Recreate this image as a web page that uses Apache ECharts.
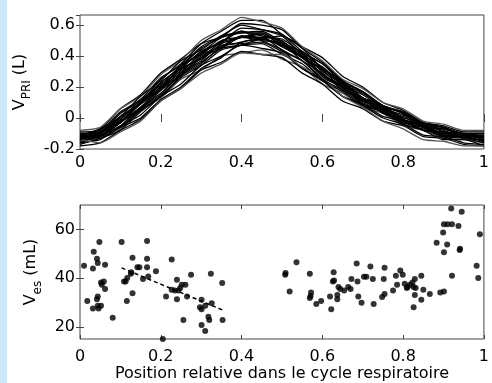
<!DOCTYPE html>
<html><head><meta charset="utf-8">
<script src="https://cdn.jsdelivr.net/npm/echarts@6/dist/echarts.min.js"></script>
<style>html,body{margin:0;padding:0;background:#fff}#c{width:492px;height:383px}</style>
</head><body><div id="c"></div>
<script>
// ---- data ----
const cyclePositions = [0,0.05,0.1,0.15,0.2,0.25,0.3,0.35,0.4,0.45,0.5,0.55,0.6,0.65,0.7,0.75,0.8,0.85,0.9,0.95,1];
const volumeCurves = [
  [-0.12,-0.10,0.01,0.10,0.25,0.35,0.48,0.56,0.63,0.63,0.54,0.45,0.32,0.23,0.13,0.08,0.00,-0.03,-0.09,-0.10,-0.12],
  [-0.15,-0.12,-0.07,0.05,0.13,0.25,0.31,0.40,0.42,0.44,0.38,0.33,0.22,0.16,0.07,0.03,-0.05,-0.08,-0.13,-0.14,-0.16],
  [-0.10,-0.09,0.03,0.11,0.23,0.32,0.43,0.49,0.56,0.53,0.50,0.39,0.31,0.19,0.13,0.05,0.01,-0.06,-0.07,-0.11,-0.11],
  [-0.17,-0.13,-0.08,0.04,0.14,0.27,0.35,0.46,0.49,0.52,0.46,0.40,0.28,0.20,0.10,0.05,-0.04,-0.08,-0.14,-0.14,-0.18],
  [-0.11,-0.07,0.06,0.15,0.29,0.38,0.48,0.52,0.56,0.50,0.44,0.32,0.24,0.14,0.09,0.01,-0.02,-0.08,-0.09,-0.12,-0.12],
  [-0.14,-0.13,-0.06,0.00,0.12,0.20,0.32,0.39,0.49,0.51,0.53,0.46,0.39,0.27,0.20,0.10,0.05,-0.03,-0.06,-0.11,-0.13],
  [-0.09,-0.08,0.04,0.12,0.26,0.34,0.46,0.53,0.60,0.57,0.53,0.41,0.33,0.22,0.16,0.07,0.04,-0.03,-0.05,-0.09,-0.09],
  [-0.16,-0.11,-0.05,0.07,0.16,0.28,0.36,0.45,0.47,0.48,0.41,0.35,0.24,0.17,0.08,0.04,-0.04,-0.07,-0.12,-0.12,-0.15],
  [-0.13,-0.12,-0.02,0.07,0.20,0.29,0.42,0.49,0.58,0.57,0.54,0.43,0.35,0.23,0.17,0.08,0.03,-0.05,-0.08,-0.13,-0.14],
  [-0.12,-0.09,-0.02,0.10,0.20,0.32,0.38,0.47,0.48,0.49,0.43,0.37,0.26,0.20,0.11,0.06,-0.02,-0.05,-0.11,-0.11,-0.13],
  [-0.18,-0.16,-0.08,-0.01,0.11,0.19,0.31,0.36,0.43,0.41,0.39,0.29,0.22,0.11,0.06,-0.02,-0.05,-0.12,-0.13,-0.17,-0.18],
  [-0.08,-0.06,0.06,0.14,0.28,0.37,0.50,0.57,0.65,0.62,0.58,0.46,0.37,0.25,0.19,0.10,0.06,-0.02,-0.04,-0.08,-0.08],
  [-0.14,-0.10,-0.03,0.10,0.19,0.33,0.42,0.52,0.55,0.56,0.49,0.42,0.30,0.22,0.12,0.07,-0.01,-0.05,-0.11,-0.12,-0.15],
  [-0.11,-0.10,0.00,0.09,0.22,0.30,0.41,0.46,0.53,0.52,0.51,0.42,0.35,0.24,0.17,0.08,0.03,-0.04,-0.06,-0.11,-0.11],
  [-0.15,-0.11,-0.06,0.06,0.15,0.29,0.37,0.48,0.52,0.55,0.48,0.41,0.28,0.20,0.09,0.04,-0.03,-0.06,-0.12,-0.13,-0.16],
  [-0.12,-0.07,0.01,0.14,0.24,0.37,0.44,0.53,0.55,0.55,0.46,0.39,0.27,0.20,0.11,0.07,-0.01,-0.04,-0.10,-0.10,-0.12],
  [-0.13,-0.11,-0.06,0.05,0.14,0.26,0.34,0.44,0.47,0.51,0.47,0.43,0.32,0.24,0.13,0.08,-0.01,-0.05,-0.11,-0.11,-0.14],
  [-0.10,-0.09,0.01,0.09,0.23,0.33,0.45,0.52,0.61,0.60,0.57,0.45,0.36,0.24,0.17,0.08,0.04,-0.04,-0.06,-0.10,-0.10],
  [-0.16,-0.14,-0.05,0.02,0.14,0.22,0.34,0.40,0.47,0.45,0.42,0.32,0.25,0.14,0.08,0.00,-0.04,-0.11,-0.12,-0.16,-0.17],
  [-0.13,-0.09,-0.03,0.09,0.18,0.31,0.39,0.49,0.52,0.54,0.47,0.40,0.28,0.21,0.11,0.06,-0.02,-0.05,-0.10,-0.11,-0.13],
  [-0.14,-0.16,-0.09,-0.02,0.11,0.19,0.29,0.35,0.42,0.41,0.41,0.33,0.26,0.14,0.07,-0.02,-0.07,-0.14,-0.15,-0.18,-0.18],
  [-0.12,-0.12,-0.03,0.06,0.19,0.28,0.40,0.46,0.53,0.51,0.48,0.37,0.29,0.18,0.12,0.03,-0.01,-0.08,-0.09,-0.13,-0.14],
  [-0.14,-0.09,-0.01,0.12,0.21,0.34,0.41,0.50,0.52,0.52,0.44,0.37,0.25,0.18,0.09,0.05,-0.03,-0.06,-0.12,-0.12,-0.15],
  [-0.11,-0.11,-0.02,0.05,0.18,0.27,0.39,0.45,0.52,0.50,0.48,0.39,0.32,0.21,0.15,0.06,0.02,-0.05,-0.07,-0.11,-0.12]
];
const earlyPoints = [
  [0.010,45.1],[0.018,30.6],[0.032,27.5],[0.034,50.8],[0.032,43.9],[0.042,47.9],[0.044,46.2],[0.048,54.8],
  [0.052,38.2],[0.059,38.6],[0.062,45.5],[0.062,35.5],[0.054,37.3],[0.044,32.4],[0.042,31.3],[0.044,28.6],
  [0.046,27.5],[0.052,28.6],[0.081,23.7],[0.103,54.8],[0.109,38.6],[0.113,38.6],[0.117,40.0],[0.116,30.6],
  [0.130,48.3],[0.127,42.4],[0.130,33.8],[0.126,41.8],[0.142,44.4],[0.147,44.4],[0.156,39.6],[0.166,55.2],
  [0.166,47.9],[0.166,44.4],[0.169,40.7],[0.188,42.8],[0.205,15.0],[0.227,47.6],[0.213,32.4],[0.240,39.3],
  [0.240,31.3],[0.227,35.2],[0.235,34.9],[0.244,34.9],[0.248,35.9],[0.252,37.3],[0.256,22.8],[0.261,37.3],
  [0.275,41.4],[0.265,32.4],[0.324,41.8],[0.352,38.0],[0.301,31.1],[0.297,28.0],[0.301,27.2],[0.310,28.6],
  [0.318,24.1],[0.320,22.8],[0.326,29.7],[0.301,20.7],[0.310,18.3],[0.353,22.8]
];
const latePoints = [
  [0.508,41.4],[0.509,42.1],[0.519,34.5],[0.536,46.5],[0.569,41.8],[0.572,34.1],[0.571,32.7],[0.569,31.8],
  [0.585,29.4],[0.597,30.6],[0.619,32.4],[0.622,27.2],[0.626,38.6],[0.629,39.0],[0.628,42.4],[0.637,33.1],
  [0.637,31.3],[0.640,36.3],[0.644,35.5],[0.654,34.9],[0.664,36.3],[0.670,35.5],[0.672,39.6],[0.685,46.0],
  [0.687,38.6],[0.689,32.4],[0.697,29.9],[0.703,40.5],[0.709,40.5],[0.719,44.8],[0.725,39.6],[0.727,29.4],
  [0.748,32.2],[0.752,39.6],[0.754,44.2],[0.754,33.5],[0.775,34.9],[0.782,41.0],[0.785,37.3],[0.793,43.1],
  [0.799,41.4],[0.804,37.7],[0.809,35.9],[0.811,36.3],[0.817,37.3],[0.823,38.2],[0.829,39.6],[0.826,36.3],
  [0.831,35.9],[0.829,33.1],[0.826,28.0],[0.845,41.0],[0.850,35.2],[0.845,31.1],[0.866,33.5],[0.892,34.1],
  [0.901,34.5],[0.883,54.5],[0.899,58.7],[0.901,62.1],[0.910,62.1],[0.921,62.1],[0.919,68.6],[0.945,67.2],
  [0.937,61.4],[0.909,53.8],[0.901,50.6],[0.940,51.5],[0.941,52.0],[0.921,41.0],[0.990,58.0],[0.982,45.1],
  [0.986,40.0]
];
const trendLine = [[0.103,44.2],[0.353,26.9]];
const bottomYTicks = [20, 40, 60];
const xAxisTitle = 'Position relative dans le cycle respiratoire';

// ---- chart ----
const FONT = 'DejaVu Sans, sans-serif';
const FS = 16;
const AX = '#444';
const chart = echarts.init(document.getElementById('c'), null, {renderer: 'canvas'});

function xAx(grid, pos, labels, margin) {
  return {
    type: 'value', gridIndex: grid, position: pos, min: 0, max: 1, interval: 0.2,
    axisLine: {show: false}, splitLine: {show: false},
    axisTick: {show: true, inside: true, length: 4, lineStyle: {color: AX}},
    axisLabel: {show: labels, margin: margin, color: '#000', fontSize: FS, fontFamily: FONT}
  };
}
function yAx(grid, pos, min, max, interval, labels, extra) {
  return Object.assign({
    type: 'value', gridIndex: grid, position: pos, min: min, max: max, interval: interval,
    axisLine: {show: false}, splitLine: {show: false},
    axisTick: {show: true, inside: true, length: 4, lineStyle: {color: AX}},
    axisLabel: {show: labels, margin: 5, color: '#000', fontSize: FS, fontFamily: FONT, showMaxLabel: false, showMinLabel: true}
  }, extra || {});
}
const richName = {
  v: {fontSize: 16, fontFamily: FONT, color: '#000', lineHeight: 16, verticalAlign: 'top'},
  s: {fontSize: 12, fontFamily: FONT, color: '#000', lineHeight: 12, verticalAlign: 'top', padding: [9, 0, 0, 0]}
};

const series = [];
volumeCurves.forEach((c, i) => {
  series.push({
    type: 'line', xAxisIndex: 0, yAxisIndex: 0, symbol: 'none', smooth: 0.2,
    data: cyclePositions.map((p, j) => [p, c[j]]),
    lineStyle: {color: (i === 1 || i === 20 || i === 11) ? '#555' : '#000', width: 1.3},
    silent: true
  });
});
series.push({
  type: 'scatter', xAxisIndex: 2, yAxisIndex: 2, symbolSize: 6,
  data: earlyPoints, itemStyle: {color: '#000'}
});
series.push({
  type: 'scatter', xAxisIndex: 2, yAxisIndex: 2, symbolSize: 6,
  data: latePoints, itemStyle: {color: '#000'}
});
series.push({
  type: 'line', xAxisIndex: 2, yAxisIndex: 2, symbol: 'none',
  data: trendLine, lineStyle: {color: '#000', width: 1.5, type: [4, 3]}
});

const bottomTick = {show: true, inside: true, length: 4, lineStyle: {color: AX}, customValues: bottomYTicks};

chart.setOption({
  animation: false,
  backgroundColor: '#fff',
  graphic: [{type: 'rect', left: 0, top: 0, shape: {width: 7, height: 383}, style: {fill: '#cde7fb'}, silent: true}],
  grid: [
    {left: 80, top: 15, width: 409, height: 134, show: true, borderColor: AX, borderWidth: 1, backgroundColor: '#fff'},
    {left: 80, top: 205, width: 409, height: 134, show: true, borderColor: AX, borderWidth: 1, backgroundColor: '#fff'}
  ],
  xAxis: [
    xAx(0, 'bottom', true, 6),
    xAx(0, 'top', false, 6),
    Object.assign(xAx(1, 'bottom', true, 10), {
      name: xAxisTitle, nameLocation: 'middle', nameGap: 26,
      nameTextStyle: {fontSize: FS, fontFamily: FONT, color: '#000'}
    }),
    xAx(1, 'top', false, 6)
  ],
  yAxis: [
    yAx(0, 'left', -0.2, 0.665, 0.2, true, {
      name: '{v|V}{s|PRI}{v| (L)}', nameLocation: 'middle', nameRotate: 90, nameGap: 48,
      nameTextStyle: {rich: richName}
    }),
    yAx(0, 'right', -0.2, 0.665, 0.2, false),
    {
      type: 'value', gridIndex: 1, position: 'left', min: 15, max: 70,
      axisLine: {show: false}, splitLine: {show: false},
      axisTick: bottomTick,
      axisLabel: {show: true, margin: 5, color: '#000', fontSize: FS, fontFamily: FONT, customValues: bottomYTicks},
      name: '{v|V}{s|es}{v| (mL)}', nameLocation: 'middle', nameRotate: 90, nameGap: 37,
      nameTextStyle: {rich: richName}
    },
    {
      type: 'value', gridIndex: 1, position: 'right', min: 15, max: 70,
      axisLine: {show: false}, splitLine: {show: false},
      axisTick: bottomTick, axisLabel: {show: false}
    }
  ],
  series: series
});
</script>
</body></html>
